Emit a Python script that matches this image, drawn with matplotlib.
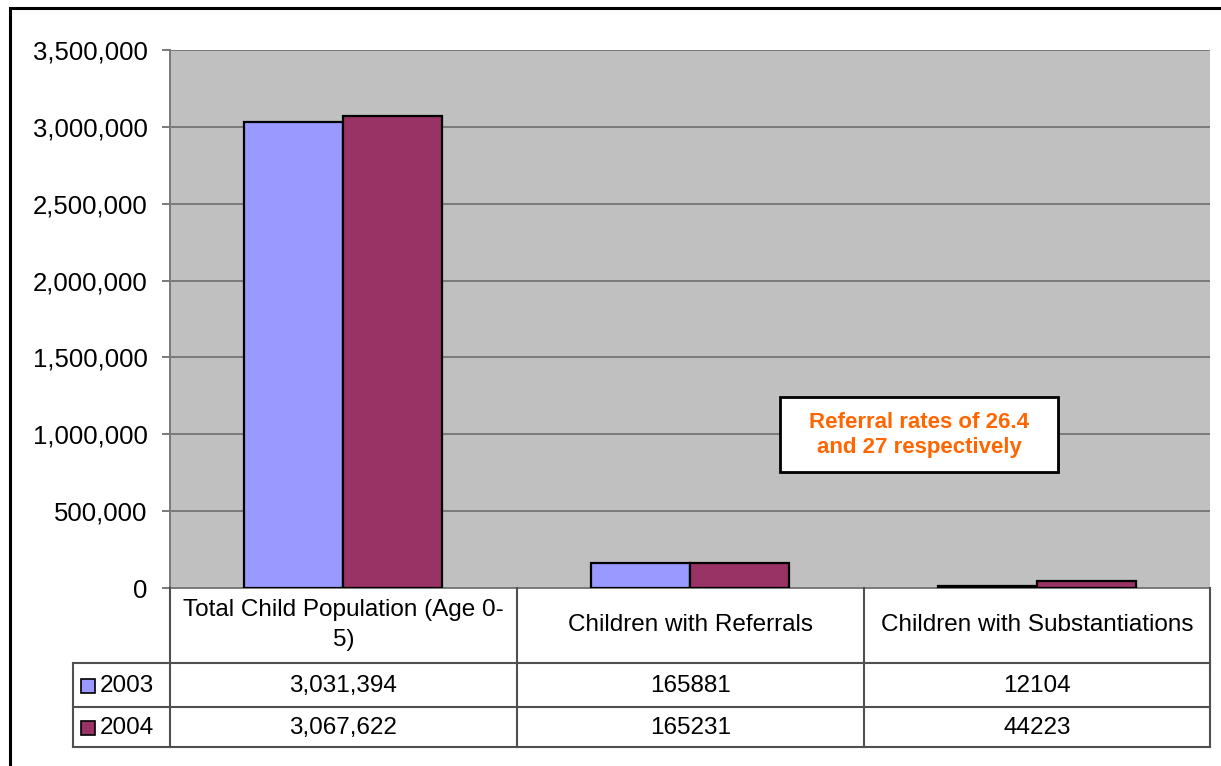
import matplotlib
matplotlib.use("Agg")
import matplotlib.pyplot as plt
from matplotlib.patches import Rectangle
from matplotlib.ticker import FuncFormatter
import numpy as np

plt.rcParams['font.family'] = ['Liberation Sans', 'DejaVu Sans']

categories = ["Total Child Population (Age 0-\n5)", "Children with Referrals",
              "Children with Substantiations"]
years = ["2003", "2004"]
vals2003 = [3031394, 165881, 12104]
vals2004 = [3067622, 165231, 44223]
cell2003 = ["3,031,394", "165881", "12104"]
cell2004 = ["3,067,622", "165231", "44223"]
colors = ["#9999FF", "#993366"]
note = "Referral rates of 26.4\nand 27 respectively"

W, H = 1221, 766
fig = plt.figure(figsize=(W / 100, H / 100), dpi=100)

# plot area in pixels
pl, pr, pt, pb = 170, 1210, 50, 588
ax = fig.add_axes([pl / W, 1 - pb / H, (pr - pl) / W, (pb - pt) / H])
ax.set_facecolor("#C0C0C0")

x = np.arange(len(categories))
bw = 0.286
ax.bar(x - bw / 2, vals2003, bw, color=colors[0], edgecolor="black", linewidth=1.6, zorder=3)
ax.bar(x + bw / 2, vals2004, bw, color=colors[1], edgecolor="black", linewidth=1.6, zorder=3)

ax.set_xlim(-0.5, len(categories) - 0.5)
ax.set_ylim(0, 3500000)
ax.set_yticks(np.arange(0, 3500001, 500000))
ax.yaxis.set_major_formatter(FuncFormatter(lambda v, p: f"{int(v):,}"))
ax.grid(axis="y", color="#7a7a7a", linewidth=1.4, zorder=1)
ax.set_xticks([])
ax.tick_params(axis="y", length=6, width=1.4, color="#7a7a7a", pad=10, labelsize=18.5)
for s in ["top", "right"]:
    ax.spines[s].set_visible(False)
ax.spines["left"].set_color("#7a7a7a")
ax.spines["left"].set_linewidth(1.4)
ax.spines["bottom"].set_color("#7a7a7a")
ax.spines["bottom"].set_linewidth(1.4)

def px(xp, yp):
    return xp / W, 1 - yp / H

# annotation box
fig.add_artist(Rectangle(px(782, 474), 278 / W, 75 / H, facecolor="#808080", edgecolor="none"))
fig.add_artist(Rectangle(px(780, 472), 278 / W, 75 / H, facecolor="white",
                         edgecolor="black", lw=2))
fig.text(*px(919, 435), note, ha="center", va="center", fontsize=16,
         fontweight="bold", color="#FF6600", linespacing=1.2)

# data table drawn in pixel coordinates
lc = "#505050"
def hline(y, x0, x1):
    fig.add_artist(plt.Line2D([x0 / W, x1 / W], [1 - y / H, 1 - y / H], color=lc, lw=1.5))

def vline(xp, y0, y1):
    fig.add_artist(plt.Line2D([xp / W, xp / W], [1 - y0 / H, 1 - y1 / H], color=lc, lw=1.5))

cols = [170, 517, 864, 1210]
hline(663, 73, 1210)
hline(707, 73, 1210)
hline(747, 73, 1210)
for c in cols:
    vline(c, 588, 747)
vline(73, 663, 747)

for i, cat in enumerate(categories):
    cx = (cols[i] + cols[i + 1]) / 2
    fig.text(*px(cx, 625), cat, ha="center", va="center", fontsize=17.5, linespacing=1.5)
    fig.text(*px(cx, 686), cell2003[i], ha="center", va="center", fontsize=17.5)
    fig.text(*px(cx, 728), cell2004[i], ha="center", va="center", fontsize=17.5)

for j, (yr, yc) in enumerate(zip(years, [686, 728])):
    fig.add_artist(Rectangle(px(81, yc + 7), 14 / W, 14 / H, facecolor=colors[j],
                             edgecolor="black", lw=1.2))
    fig.text(*px(100, yc), yr, ha="left", va="center", fontsize=17.5)

# outer chart frame
fig.add_artist(Rectangle(px(10, 775), 1230 / W, 767 / H, fill=False, edgecolor="black", lw=2.2))

fig.savefig("out.png", dpi=100)
